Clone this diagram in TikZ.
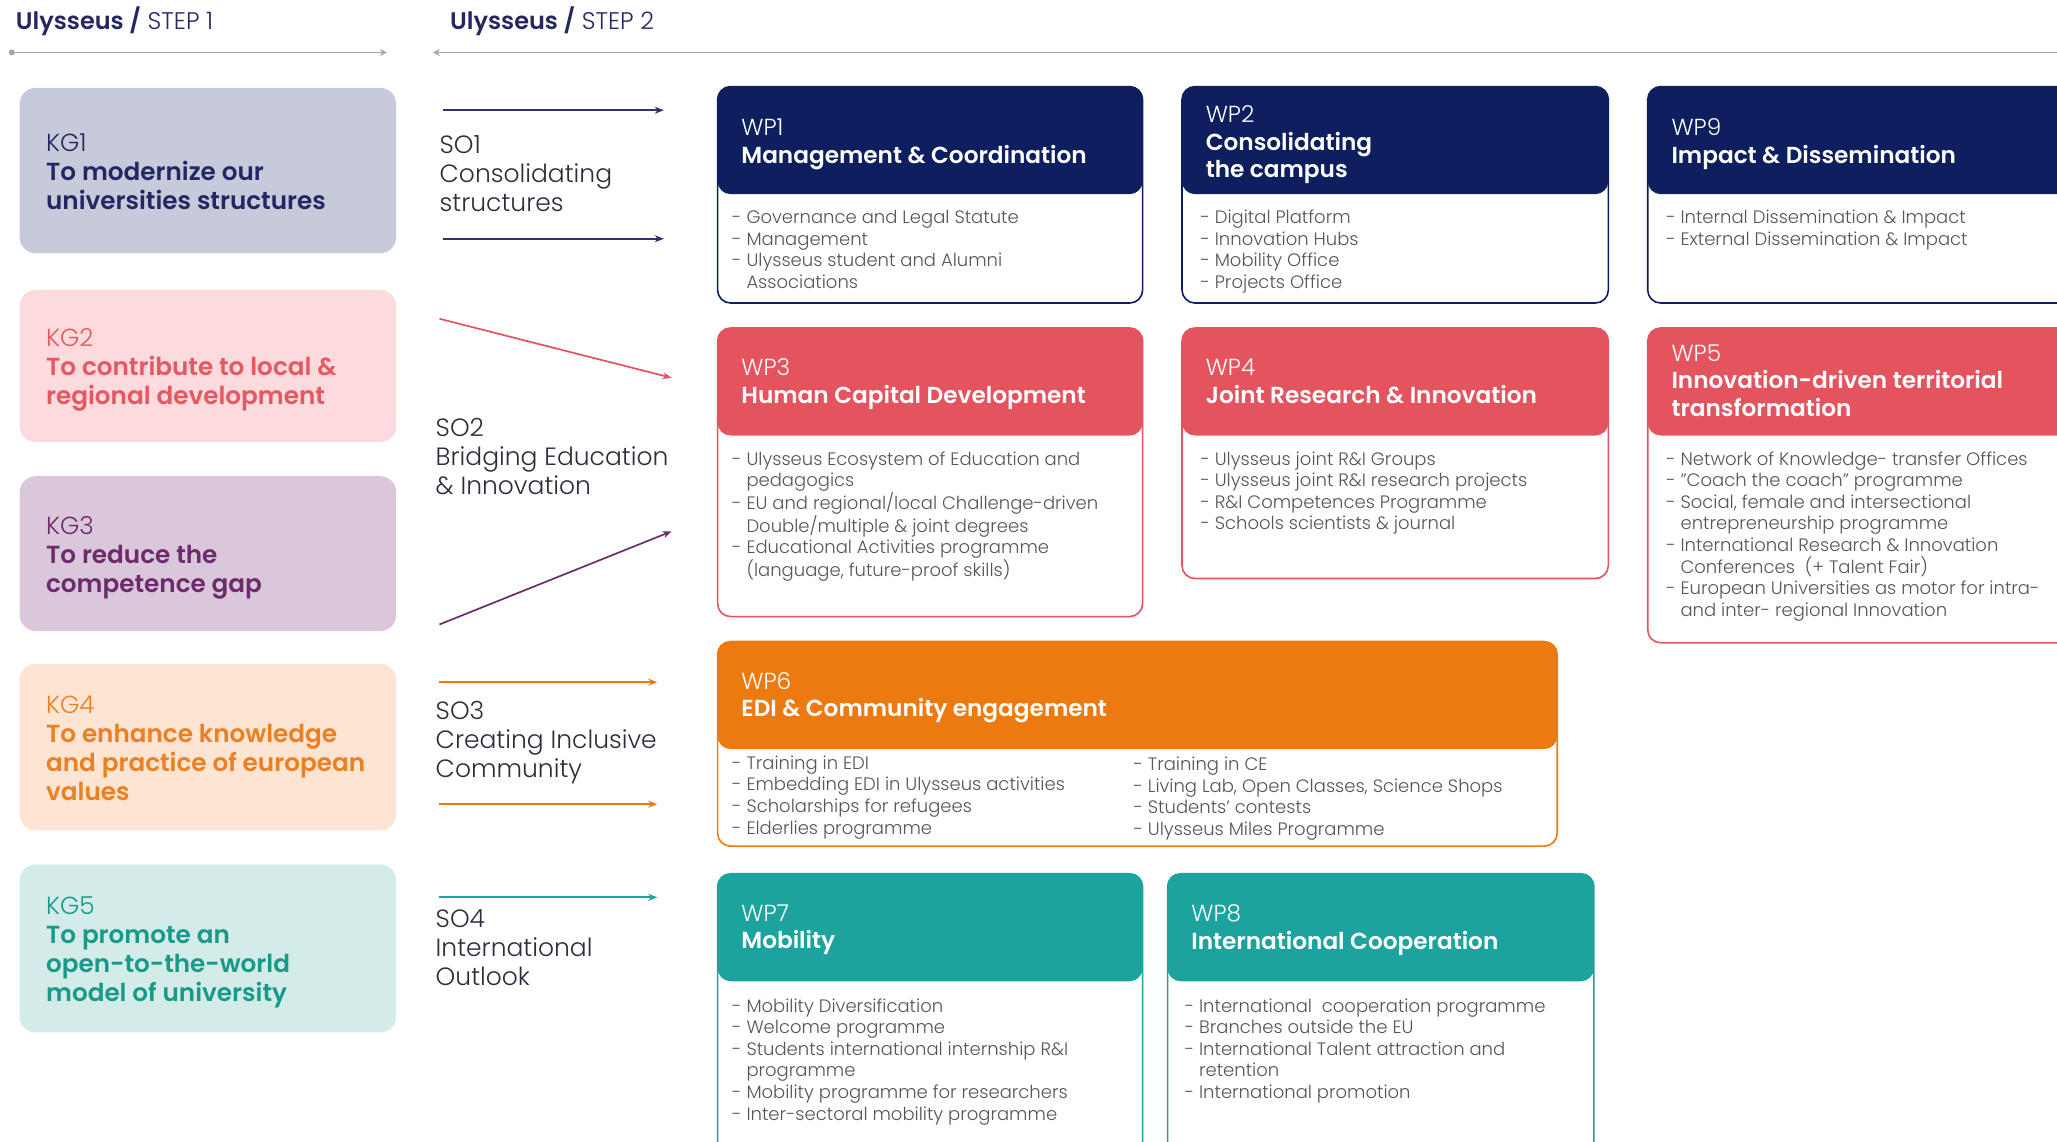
\documentclass[tikz,border=0pt]{standalone}
\usepackage{fontspec}
\setmainfont{Poppins}[UprightFont=* Light, BoldFont=* SemiBold]
\usetikzlibrary{arrows.meta}
\definecolor{navy}{RGB}{13,31,94}
\definecolor{wpred}{RGB}{228,84,95}
\definecolor{wporange}{RGB}{236,122,16}
\definecolor{wpteal}{RGB}{28,163,158}
\definecolor{kgonefill}{RGB}{199,202,219}
\definecolor{kgtwofill}{RGB}{252,218,221}
\definecolor{kgthreefill}{RGB}{219,199,219}
\definecolor{kgfourfill}{RGB}{253,228,211}
\definecolor{kgfivefill}{RGB}{211,236,234}
\definecolor{kgonetext}{RGB}{36,40,98}
\definecolor{kgtwotext}{RGB}{229,88,98}
\definecolor{kgthreetext}{RGB}{108,44,108}
\definecolor{kgfourtext}{RGB}{234,128,34}
\definecolor{kgfivetext}{RGB}{24,154,136}
\definecolor{bodygray}{RGB}{85,85,90}
\definecolor{sogray}{RGB}{45,45,60}
\definecolor{linegray}{RGB}{165,165,170}
\definecolor{arrnavy}{RGB}{45,50,110}
\definecolor{arrpurple}{RGB}{110,44,110}
\newcommand{\ind}{\hphantom{- }}
\newcommand{\wpbox}[5]{%
  \fill[white,rounded corners=13pt] (#2,#3) rectangle (#4,#5);
  \fill[#1,rounded corners=13pt] (#2,#3) rectangle (#4,#3+82);
  \draw[#1,line width=1.6pt,rounded corners=13pt] (#2,#3) rectangle (#4,#5);
}
\tikzset{
  kgtext/.style={anchor=north west,inner sep=0pt,align=left,font=\fontsize{24.7}{29}\selectfont},
  sotext/.style={anchor=north west,inner sep=0pt,align=left,text=sogray,font=\fontsize{25}{29}\selectfont},
  wptitle/.style={anchor=north west,inner sep=0pt,align=left,text=white,font=\fontsize{23.2}{27.5}\selectfont},
  bullets/.style={anchor=north west,inner sep=0pt,align=left,text=bodygray,font=\fontsize{18}{21.6}\selectfont},
  hdtext/.style={anchor=north west,inner sep=0pt,text=kgonetext,font=\fontsize{24}{29}\selectfont},
  hline/.style={linegray,line width=1.4pt},
  soarrow/.style={line width=1.7pt,-{Stealth[length=9pt,width=7pt]}},
}
\begin{document}
\begin{tikzpicture}[x=1.3119pt,y=-1.3119pt]
\useasboundingbox (0,0) rectangle (1568,870);
\clip (0,0) rectangle (1568,870);
\fill[white] (0,0) rectangle (1568,870);

% headers
\node[hdtext] (h1) at (12,5) {\textbf{Ulysseus /} STEP 1};
\node[hdtext] (h2) at (343,5) {\textbf{Ulysseus /} STEP 2};
\coordinate (l1s) at (9,40);
\coordinate (l1e) at (295,40);
\coordinate (l2s) at (1568,40);
\coordinate (l2e) at (330,40);
\fill[linegray] (l1s) circle (3pt);
\draw[hline,-{Stealth[length=7pt,width=7pt]}] (l1s) -- (l1e);
\draw[hline,-{Stealth[length=7pt,width=7pt]}] (l2s) -- (l2e);

% KG boxes
\fill[kgonefill,rounded corners=16pt] (15,67) rectangle (302,193);
\fill[kgtwofill,rounded corners=16pt] (15,221) rectangle (302,337);
\fill[kgthreefill,rounded corners=16pt] (15,363) rectangle (302,481);
\fill[kgfourfill,rounded corners=16pt] (15,506) rectangle (302,633);
\fill[kgfivefill,rounded corners=16pt] (15,659) rectangle (302,787);
\node[kgtext,text=kgonetext] (kg1) at (35,101.5) {KG1\\\textbf{To modernize our}\\\textbf{universities structures}};
\node[kgtext,text=kgtwotext] (kg2) at (35,250.5) {KG2\\\textbf{To contribute to local \&}\\\textbf{regional development}};
\node[kgtext,text=kgthreetext] (kg3) at (35,393.5) {KG3\\\textbf{To reduce the}\\\textbf{competence gap}};
\node[kgtext,text=kgfourtext] (kg4) at (35,530.5) {KG4\\\textbf{To enhance knowledge}\\\textbf{and practice of european}\\\textbf{values}};
\node[kgtext,text=kgfivetext] (kg5) at (35,683.5) {KG5\\\textbf{To promote an}\\\textbf{open-to-the-world}\\\textbf{model of university}};

% SO labels
\node[sotext] (so1) at (335,103.5) {SO1\\Consolidating\\structures};
\node[sotext] (so2) at (332,318.5) {SO2\\Bridging Education\\\& Innovation};
\node[sotext] (so3) at (332,534.5) {SO3\\Creating Inclusive\\Community};
\node[sotext] (so4) at (332,693.5) {SO4\\International\\Outlook};

% SO arrows
\coordinate (a1s) at (338,84);  \coordinate (a1e) at (506,84);
\coordinate (a2s) at (338,182); \coordinate (a2e) at (506,182);
\coordinate (a3s) at (335,243); \coordinate (a3e) at (512,288);
\coordinate (a4s) at (335,476); \coordinate (a4e) at (512,405);
\coordinate (a5s) at (335,520); \coordinate (a5e) at (501,520);
\coordinate (a6s) at (335,613); \coordinate (a6e) at (501,613);
\coordinate (a7s) at (335,684); \coordinate (a7e) at (501,684);
\draw[soarrow,arrnavy] (a1s) -- (a1e);
\draw[soarrow,arrnavy] (a2s) -- (a2e);
\draw[soarrow,wpred] (a3s) -- (a3e);
\draw[soarrow,arrpurple] (a4s) -- (a4e);
\draw[soarrow,wporange] (a5s) -- (a5e);
\draw[soarrow,wporange] (a6s) -- (a6e);
\draw[soarrow,wpteal] (a7s) -- (a7e);

% WP boxes
\wpbox{navy}{547}{66}{871}{231}
\wpbox{navy}{901}{66}{1226}{231}
\wpbox{navy}{1256}{66}{1600}{231}
\wpbox{wpred}{547}{250}{871}{470}
\wpbox{wpred}{901}{250}{1226}{441}
\wpbox{wpred}{1256}{250}{1600}{490}
\wpbox{wporange}{547}{489}{1187}{645}
\wpbox{wpteal}{547}{666}{871}{900}
\wpbox{wpteal}{890}{666}{1215}{900}

% WP titles
\node[wptitle] (wp1) at (565,90.5) {WP1\\\textbf{Management \& Coordination}};
\node[wptitle] (wp2) at (919,80.5) {WP2\\\textbf{Consolidating}\\\textbf{the campus}};
\node[wptitle] (wp9) at (1274,90.5) {WP9\\\textbf{Impact \& Dissemination}};
\node[wptitle] (wp3) at (565,273.5) {WP3\\\textbf{Human Capital Development}};
\node[wptitle] (wp4) at (919,273.5) {WP4\\\textbf{Joint Research \& Innovation}};
\node[wptitle] (wp5) at (1274,262.5) {WP5\\\textbf{Innovation-driven territorial}\\\textbf{transformation}};
\node[wptitle] (wp6) at (565,512.5) {WP6\\\textbf{EDI \& Community engagement}};
\node[wptitle] (wp7) at (565,689.5) {WP7\\\textbf{Mobility}};
\node[wptitle] (wp8) at (908,689.5) {WP8\\\textbf{International Cooperation}};

% bullets
\node[bullets] (b1) at (558,160) {- Governance and Legal Statute\\- Management\\- Ulysseus student and Alumni\\\ind Associations};
\node[bullets] (b2) at (915,160) {- Digital Platform\\- Innovation Hubs\\- Mobility Office\\- Projects Office};
\node[bullets] (b9) at (1270,160) {- Internal Dissemination \& Impact\\- External Dissemination \& Impact};
\node[bullets] (b3) at (558,344) {- Ulysseus Ecosystem of Education and\\\ind pedagogics\\- EU and regional/local Challenge-driven\\\ind Double/multiple \& joint degrees\\- Educational Activities programme\\\ind (language, future-proof skills)};
\node[bullets] (b4) at (915,344) {- Ulysseus joint R\&I Groups\\- Ulysseus joint R\&I research projects\\- R\&I Competences Programme\\- Schools scientists \& journal};
\node[bullets] (b5) at (1270,344) {- Network of Knowledge- transfer Offices\\- "Coach the coach" programme\\- Social, female and intersectional\\\ind entrepreneurship programme\\- International Research \& Innovation\\\ind Conferences\ \ (+ Talent Fair)\\- European Universities as motor for intra-\\\ind and inter- regional Innovation};
\node[bullets] (b6a) at (558,576) {- Training in EDI\\- Embedding EDI in Ulysseus activities\\- Scholarships for refugees\\- Elderlies programme};
\node[bullets] (b6b) at (864,577) {- Training in CE\\- Living Lab, Open Classes, Science Shops\\- Students' contests\\- Ulysseus Miles Programme};
\node[bullets] (b7) at (558,761) {- Mobility Diversification\\- Welcome programme\\- Students international internship R\&I\\\ind programme\\- Mobility programme for researchers\\- Inter-sectoral mobility programme};
\node[bullets] (b8) at (903,761) {- International\ \ cooperation programme\\- Branches outside the EU\\- International Talent attraction and\\\ind retention\\- International promotion};
\end{tikzpicture}
\end{document}
